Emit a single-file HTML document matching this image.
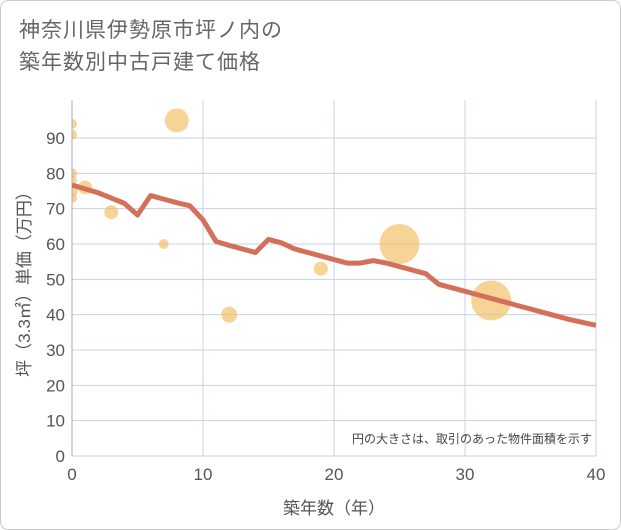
<!DOCTYPE html>
<html><head><meta charset="utf-8"><style>
body{margin:0;background:#fff;font-family:"Liberation Sans","Noto Sans CJK JP",sans-serif;}
#wrap{position:relative;width:619px;height:528px;border:1px solid #ccc;border-radius:8px;overflow:hidden;background:#fff}
#title{position:absolute;left:18px;top:14px;font-size:21px;line-height:32px;color:#666;letter-spacing:1px}
</style></head><body>
<div id="wrap">
<div id="title">神奈川県伊勢原市坪ノ内の<br>築年数別中古戸建て価格</div>
<svg id="chart" width="621" height="530" style="position:absolute;left:-1px;top:-1px"><defs><clipPath id="pc"><rect x="72" y="100" width="524" height="356"/></clipPath></defs></svg>
</div>
<script>
const xTicks=[0,10,20,30,40];
const yTicks=[0,10,20,30,40,50,60,70,80,90];
const bubbleAge=[0,0,0,0,0,0,1,3,7,8,12,19,25,32];
const bubblePrice=[94,91,80,78,75,73,76,69,60,95,40,53,60,44];
const bubbleR=[5,5,5,5,6,5,7,7,5,12,8,7,20,20];
const lineAge=[0,2,4,5,6,7,8,9,10,11,12,13,14,15,16,17,18,19,20,21,22,23,24,25,26,27,28,29,30,31,32,33,34,35,36,37,38,39,40];
const linePrice=[76.7,74.5,71.5,68.2,73.7,72.7,71.7,70.8,66.8,60.7,59.6,58.6,57.6,61.3,60.3,58.6,57.6,56.6,55.6,54.6,54.6,55.3,54.6,53.6,52.6,51.6,48.6,47.6,46.6,45.6,44.6,43.6,42.6,41.6,40.6,39.6,38.6,37.8,37];
const X0=72,X1=596,Y0=456,Y90=138;
const xs=v=>X0+(X1-X0)*v/40;
const ys=v=>Y0-(Y0-Y90)*v/90;
const svg=document.getElementById('chart');
const NS='http://www.w3.org/2000/svg';
function mk(t,a){const e=document.createElementNS(NS,t);for(const k in a)e.setAttribute(k,a[k]);svg.appendChild(e);return e;}
const bg=mk('rect',{x:X0,y:100,width:X1-X0,height:Y0-100,fill:'#fff'});


yTicks.forEach(v=>{
 const l=mk('line',{x1:X0,x2:X1,y1:ys(v),y2:ys(v),stroke:'#c5d3e2','stroke-width':1});
 
 
 const t=mk('text',{x:X0-7,y:ys(v)+6,'text-anchor':'end','font-size':17,fill:'#555'});
 t.textContent=v;
 
 
});
xTicks.forEach(v=>{
 const l=mk('line',{x1:xs(v),x2:xs(v),y1:100,y2:Y0,stroke:'#c5d3e2','stroke-width':1});
 
 
 const t=mk('text',{x:xs(v),y:Y0+24,'text-anchor':'middle','font-size':17,fill:'#555'});
 t.textContent=v;
 
 
});
bubbleAge.forEach((a,i)=>{
 const c=mk('circle',{cx:xs(a),cy:ys(bubblePrice[i]),r:bubbleR[i],fill:'#f2bc5e','fill-opacity':0.65,'clip-path':'url(#pc)'});
 
 
});
const ax=mk('line',{x1:X0,x2:X0,y1:100,y2:Y0,stroke:'#aab','stroke-width':1});


const p=mk('polyline',{points:lineAge.map((a,i)=>xs(a)+','+ys(linePrice[i])).join(' '),fill:'none',stroke:'#d4705a','stroke-width':5,'stroke-linejoin':'round','clip-path':'url(#pc)'});


const n=mk('text',{x:592,y:443,'text-anchor':'end','font-size':12,fill:'#444'});
n.textContent='円の大きさは、取引のあった物件面積を示す';


const xt=mk('text',{x:334,y:514,'text-anchor':'middle','font-size':17,fill:'#555'});
xt.textContent='築年数（年）';


const yt=mk('text',{x:0,y:0,'text-anchor':'middle','font-size':17,fill:'#555',transform:'translate(30,280) rotate(-90)'});
yt.textContent='坪（3.3㎡）単価（万円）';


</script>
</body></html>
